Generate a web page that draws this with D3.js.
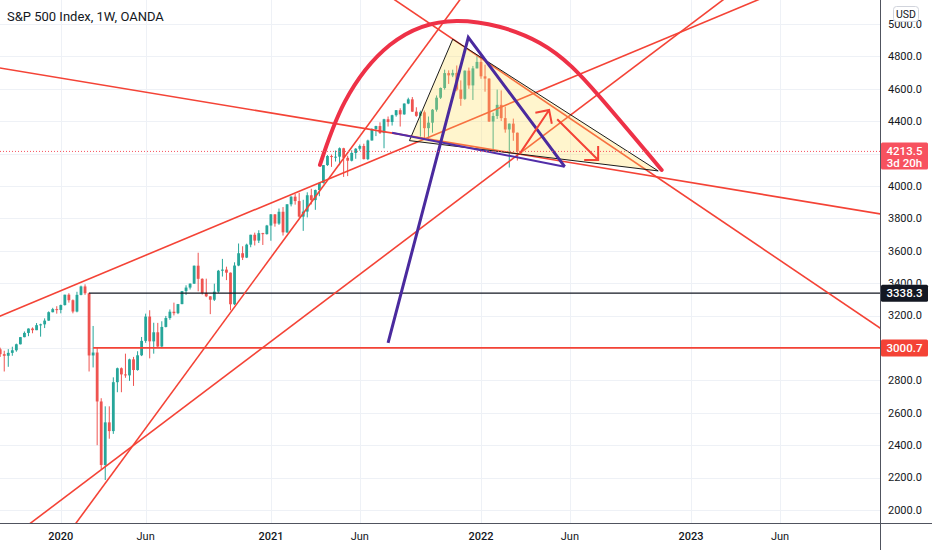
<!DOCTYPE html>
<meta charset="utf-8">
<style>

body {
  margin: 0;
  font-family: Roboto, "Open Sans", Arial, sans-serif;
  width: 932px;
  height: 550px;
  background: #fff;
  overflow: hidden;
}

svg {
  display: block;
}

.candle line {
  stroke-width: 1px;
}

.trend {
  fill: none;
  stroke: #f44336;
  stroke-width: 1.6px;
}

</style>
<body>

<script src="https://d3js.org/d3.v7.min.js"></script>
<script>

// weekly bars, OANDA SPX500USD, first bar is the week of 2019-09-16
let firstWeek = "2019-09-16";

let opens = [
  3007, 2992, 2962, 2952, 2970, 2986, 3023, 3067, 3093, 3120, 3110, 3141, 3146, 3169, 3221, 3240,
  3235, 3265, 3329, 3295, 3225, 3328, 3380, 3338, 2954, 2972, 2670, 2278, 2541, 2487, 2789, 2875,
  2837, 2831, 2930, 2864, 2955, 3044, 3194, 3041, 3097, 3009, 3130, 3185, 3224, 3215, 3271, 3351,
  3373, 3397, 3508, 3427, 3340, 3319, 3298, 3348, 3477, 3484, 3465, 3270, 3509, 3585, 3558, 3638,
  3699, 3663, 3709, 3703,
  3756, 3825, 3768, 3841, 3714, 3887, 3934, 3907, 3811, 3842, 3943, 3913, 3975, 4019, 4129, 4185,
  4180, 4181, 4233, 4174, 4156, 4204, 4230, 4247, 4166, 4281, 4352, 4370, 4327, 4412, 4395, 4437,
  4468, 4442, 4509, 4535, 4459, 4433, 4455, 4357, 4391, 4471, 4545, 4605, 4697, 4683, 4698, 4595,
  4538, 4712, 4621, 4726,
  4766, 4677, 4663, 4398, 4432, 4501, 4419, 4349, 4385, 4329
];

let highs = [
  3022, 3002, 2983, 2993, 3008, 3027, 3068, 3102, 3121, 3127, 3154, 3150, 3183, 3226, 3248, 3258,
  3268, 3329, 3338, 3300, 3347, 3385, 3393, 3342, 3136, 3000, 2690, 2640, 2640, 2819, 2879, 2880,
  2965, 2934, 2945, 2980, 3068, 3212, 3233, 3156, 3155, 3165, 3198, 3238, 3280, 3272, 3352, 3387,
  3399, 3509, 3588, 3430, 3428, 3320, 3397, 3482, 3550, 3502, 3466, 3529, 3645, 3628, 3644, 3699,
  3712, 3727, 3711, 3760,
  3827, 3826, 3861, 3870, 3888, 3937, 3951, 3958, 3915, 3961, 3983, 3978, 4021, 4129, 4191, 4194,
  4219, 4238, 4236, 4187, 4220, 4234, 4256, 4261, 4286, 4356, 4372, 4393, 4415, 4429, 4440, 4469,
  4480, 4510, 4545, 4549, 4486, 4465, 4466, 4429, 4475, 4559, 4608, 4718, 4714, 4718, 4744, 4652,
  4713, 4731, 4741, 4808,
  4818, 4749, 4665, 4453, 4595, 4590, 4490, 4386, 4416, 4330
];

let lows = [
  2985, 2945, 2855, 2884, 2952, 2977, 3022, 3066, 3073, 3091, 3110, 3070, 3123, 3168, 3220, 3212,
  3214, 3262, 3280, 3214, 3220, 3325, 3328, 2855, 2880, 2400, 2250, 2185, 2440, 2470, 2727, 2727,
  2816, 2797, 2766, 2860, 2950, 3032, 2936, 2965, 3004, 2999, 3127, 3174, 3201, 3209, 3270, 3327,
  3361, 3395, 3350, 3330, 3314, 3209, 3290, 3340, 3441, 3419, 3233, 3265, 3505, 3543, 3555, 3622,
  3633, 3648, 3636, 3700,
  3662, 3749, 3760, 3694, 3710, 3874, 3885, 3805, 3723, 3806, 3886, 3853, 3937, 4015, 4124, 4118,
  4151, 4128, 4056, 4061, 4152, 4168, 4218, 4164, 4160, 4280, 4308, 4321, 4233, 4367, 4373, 4428,
  4367, 4440, 4505, 4457, 4427, 4305, 4288, 4278, 4329, 4459, 4537, 4595, 4630, 4672, 4585, 4495,
  4532, 4600, 4531, 4726,
  4662, 4582, 4395, 4222, 4414, 4401, 4329, 4114, 4279, 4157
];

let closes = [
  2992, 2962, 2952, 2970, 2986, 3023, 3067, 3093, 3120, 3110, 3141, 3146, 3169, 3221, 3240, 3235,
  3265, 3329, 3295, 3225, 3328, 3380, 3338, 2954, 2972, 2670, 2278, 2541, 2487, 2789, 2875, 2837,
  2831, 2930, 2864, 2955, 3044, 3194, 3041, 3097, 3009, 3130, 3185, 3224, 3215, 3271, 3351, 3373,
  3397, 3508, 3427, 3340, 3319, 3298, 3348, 3477, 3484, 3465, 3270, 3509, 3585, 3558, 3638, 3699,
  3663, 3709, 3703, 3756,
  3825, 3768, 3841, 3714, 3887, 3934, 3907, 3811, 3842, 3943, 3913, 3975, 4019, 4129, 4185, 4180,
  4181, 4233, 4174, 4156, 4204, 4230, 4247, 4166, 4281, 4352, 4370, 4327, 4412, 4395, 4437, 4468,
  4442, 4509, 4535, 4459, 4433, 4455, 4357, 4391, 4471, 4545, 4605, 4697, 4683, 4698, 4595, 4538,
  4712, 4621, 4726, 4766,
  4677, 4663, 4398, 4432, 4501, 4419, 4349, 4385, 4329, 4213.5
];

let lastPrice = 4213.5;
let countdown = "3d 20h";

let priceTicks = d3.range(2000, 5001, 200);
let timeTickDates = ["2020-01-06", "2020-06-01", "2021-01-04", "2021-06-07",
                     "2022-01-03", "2022-06-06", "2023-01-02", "2023-06-05"];
let timeTickLabels = ["2020", "Jun", "2021", "Jun", "2022", "Jun", "2023", "Jun"];

// drawings, anchors as [date, price]
// extended trend lines
let trendLines = [
  [["2020-01-06", 4666], ["2022-01-03", 4236]],
  [["2020-01-06", 2060], ["2022-01-03", 4020]],
  [["2020-03-23", 2165], ["2021-01-04", 3559]],
  [["2020-01-06", 3354], ["2022-01-03", 4436]],
  [["2022-01-03", 4789], ["2023-01-02", 3912]]
];

// horizontal rays
let levelStarts = ["2020-02-24", "2020-03-02"];
let levelPrices = [3338.3, 3000.7];

let triangle = [["2021-11-15", 4906], ["2021-09-01", 4280], ["2022-11-06", 4093]];

let arcPoints = [
  ["2021-03-30", 4130], ["2021-05-12", 4519], ["2021-07-29", 4870], ["2021-11-22", 5019],
  ["2022-04-15", 4883], ["2022-07-28", 4549], ["2022-11-12", 4099]
];

let purpleV = [["2021-07-26", 3031], ["2021-12-12", 4918], ["2022-05-28", 4119]];
let purpleBase = [["2021-08-02", 4329], ["2022-05-28", 4119]];

let arrows = [
  [["2022-03-11", 4198], ["2022-05-01", 4469]],
  [["2022-05-15", 4412], ["2022-07-25", 4160]]
];


let width = 932,
    height = 550,
    plotW = 880,
    plotH = 523;

let parseDate = d3.utcParse("%Y-%m-%d");

let x = d3.scaleUtc()
  .domain([parseDate("2020-01-06"), parseDate("2022-01-03")])
  .range([60.8, 481]);

let y = d3.scaleLinear()
  .domain([2000, 5000])
  .range([510, 24]);

let pt = function(d) { return [x(parseDate(d[0])), y(d[1])]; };

let start = parseDate(firstWeek);
let bars = closes.map(function(c, i) {
  return { date: d3.utcMonday.offset(start, i), o: opens[i], h: highs[i], l: lows[i], c: c };
});

let svg = d3.select("body")
  .append("svg")
  .attr("width", width)
  .attr("height", height);

let defs = svg.append("defs");
defs.append("clipPath")
  .attr("id", "plot")
  .append("rect")
  .attr("width", plotW)
  .attr("height", plotH);

/* ------- GRID -------*/
let grid = svg.append("g").attr("class", "grid");

grid.selectAll("line.h")
  .data(priceTicks)
  .enter().append("line")
  .attr("class", "h")
  .attr("x1", 0).attr("x2", plotW)
  .attr("y1", function(d) { return Math.round(y(d)) + 0.5; })
  .attr("y2", function(d) { return Math.round(y(d)) + 0.5; })
  .attr("stroke", "#eef1f6");

grid.selectAll("line.v")
  .data(timeTickDates)
  .enter().append("line")
  .attr("class", "v")
  .attr("y1", 0).attr("y2", plotH)
  .attr("x1", function(d) { return Math.round(x(parseDate(d))) + 0.5; })
  .attr("x2", function(d) { return Math.round(x(parseDate(d))) + 0.5; })
  .attr("stroke", "#eef1f6");

let plot = svg.append("g").attr("clip-path", "url(#plot)");

/* ------- CANDLES -------*/
let candle = plot.append("g").selectAll("g.candle")
  .data(bars)
  .enter().append("g")
  .attr("class", "candle")
  .attr("fill", function(d) { return d.c >= d.o ? "#26a69a" : "#ef5350"; })
  .attr("stroke", function(d) { return d.c >= d.o ? "#26a69a" : "#ef5350"; });

candle.append("line")
  .attr("x1", function(d) { return x(d.date); })
  .attr("x2", function(d) { return x(d.date); })
  .attr("y1", function(d) { return y(d.h); })
  .attr("y2", function(d) { return y(d.l); });

candle.append("rect")
  .attr("stroke", "none")
  .attr("x", function(d) { return x(d.date) - 1.4; })
  .attr("width", 2.8)
  .attr("y", function(d) { return y(Math.max(d.o, d.c)); })
  .attr("height", function(d) { return Math.max(1, Math.abs(y(d.o) - y(d.c))); });

/* ------- HORIZONTAL RAYS -------*/
let levelColors = ["#131722", "#f44336"];
let levelWidths = [1.3, 1.8];

plot.selectAll("line.level")
  .data(levelPrices)
  .enter().append("line")
  .attr("class", "level")
  .attr("x1", function(d, i) { return x(parseDate(levelStarts[i])); })
  .attr("x2", plotW)
  .attr("y1", function(d) { return y(d); })
  .attr("y2", function(d) { return y(d); })
  .attr("stroke", function(d, i) { return levelColors[i]; })
  .attr("stroke-width", function(d, i) { return levelWidths[i]; });

/* ------- TREND LINES (extended) -------*/
function extend(seg) {
  let a = pt(seg[0]), b = pt(seg[1]);
  let dx = b[0] - a[0], dy = b[1] - a[1];
  return [[a[0] - dx * 20, a[1] - dy * 20], [b[0] + dx * 20, b[1] + dy * 20]];
}

plot.selectAll("path.trend")
  .data(trendLines)
  .enter().append("path")
  .attr("class", "trend")
  .attr("d", function(d) { return d3.line()(extend(d)); });

/* ------- TRIANGLE -------*/
plot.append("path")
  .attr("d", d3.line()(triangle.map(pt)) + "Z")
  .attr("fill", "rgba(255, 222, 89, 0.3)")
  .attr("stroke", "#1b1b1b")
  .attr("stroke-width", 1);

/* ------- PURPLE -------*/
plot.append("path")
  .attr("d", d3.line()(purpleBase.map(pt)))
  .attr("fill", "none")
  .attr("stroke", "#512da8")
  .attr("stroke-width", 2);

plot.append("path")
  .attr("d", d3.line()(purpleV.map(pt)))
  .attr("fill", "none")
  .attr("stroke", "#4a2a9e")
  .attr("stroke-width", 3)
  .attr("stroke-linejoin", "miter");

/* ------- ARC -------*/
plot.append("path")
  .attr("d", d3.line().curve(d3.curveNatural)(arcPoints.map(pt)))
  .attr("fill", "none")
  .attr("stroke", "#ee3147")
  .attr("stroke-width", 4)
  .attr("stroke-linecap", "round");

/* ------- ARROWS -------*/
function arrowPath(seg) {
  let a = pt(seg[0]), b = pt(seg[1]);
  let ang = Math.atan2(a[1] - b[1], a[0] - b[0]);
  let len = 14, spread = Math.PI / 4;
  let w1 = [b[0] + len * Math.cos(ang + spread), b[1] + len * Math.sin(ang + spread)];
  let w2 = [b[0] + len * Math.cos(ang - spread), b[1] + len * Math.sin(ang - spread)];
  return "M" + a + "L" + b + "M" + w1 + "L" + b + "L" + w2;
}

plot.selectAll("path.arrow")
  .data(arrows)
  .enter().append("path")
  .attr("class", "arrow")
  .attr("d", arrowPath)
  .attr("fill", "none")
  .attr("stroke", "#f44336")
  .attr("stroke-width", 2);

/* ------- LAST PRICE LINE -------*/
plot.append("line")
  .attr("x1", 0).attr("x2", plotW)
  .attr("y1", y(lastPrice)).attr("y2", y(lastPrice))
  .attr("stroke", "#f7525f")
  .attr("stroke-width", 1)
  .attr("stroke-dasharray", "1,2");

/* ------- AXES -------*/
svg.append("line")
  .attr("x1", 0).attr("x2", width)
  .attr("y1", plotH + 0.5).attr("y2", plotH + 0.5)
  .attr("stroke", "#50535e");

svg.append("line")
  .attr("x1", plotW + 0.5).attr("x2", plotW + 0.5)
  .attr("y1", 0).attr("y2", height)
  .attr("stroke", "#50535e");

// labels that sit fully under a price tag are not drawn
let hidden = [4200, 3000];

// 3400.0 is cut by the 3338.3 tag, as on the chart
defs.append("clipPath")
  .attr("id", "axisLabels")
  .append("rect")
  .attr("x", plotW + 1).attr("y", 0)
  .attr("width", width - plotW)
  .attr("height", y(levelPrices[0]) - 8.5);

svg.append("g").selectAll("text")
  .data(priceTicks.filter(function(d) { return hidden.indexOf(d) < 0; }))
  .enter().append("text")
  .attr("x", 888)
  .attr("y", function(d) { return y(d); })
  .attr("dy", "0.35em")
  .attr("font-size", 11)
  .attr("fill", "#131722")
  .attr("clip-path", function(d) { return d === 3400 ? "url(#axisLabels)" : null; })
  .text(d3.format(".1f"));

svg.append("g").selectAll("text")
  .data(timeTickDates)
  .enter().append("text")
  .attr("x", function(d) { return x(parseDate(d)); })
  .attr("y", 540)
  .attr("text-anchor", "middle")
  .attr("font-size", 11)
  .attr("font-weight", function(d, i) { return timeTickLabels[i] === "Jun" ? 400 : 500; })
  .attr("fill", "#131722")
  .text(function(d, i) { return timeTickLabels[i]; });

/* ------- PRICE TAGS -------*/
function tag(price, lines, color) {
  let h = lines.length > 1 ? 27 : 17;
  let top = y(price) - (lines.length > 1 ? 9 : 8.5);
  let g = svg.append("g");
  g.append("rect")
    .attr("x", plotW + 1).attr("y", top)
    .attr("width", 47).attr("height", h)
    .attr("rx", 1.5)
    .attr("fill", color);
  g.selectAll("text")
    .data(lines)
    .enter().append("text")
    .attr("x", plotW + 24.5)
    .attr("y", function(d, i) { return top + 12.5 + i * 12.5; })
    .attr("text-anchor", "middle")
    .attr("font-size", 11.5)
    .attr("font-weight", 500)
    .attr("fill", "#fff")
    .text(function(d) { return d; });
}

tag(lastPrice, [d3.format(".1f")(lastPrice), countdown], "#f7525f");
tag(levelPrices[0], [d3.format(".1f")(levelPrices[0])], "#131722");
tag(levelPrices[1], [d3.format(".1f")(levelPrices[1])], "#f44336");

/* ------- USD BADGE + TITLE -------*/
svg.append("rect")
  .attr("x", 893.5).attr("y", 6.5)
  .attr("width", 25).attr("height", 15)
  .attr("rx", 3)
  .attr("fill", "#fff")
  .attr("stroke", "#d1d4dc");

svg.append("text")
  .attr("x", 906).attr("y", 17.5)
  .attr("text-anchor", "middle")
  .attr("font-size", 10.5)
  .attr("fill", "#131722")
  .text("USD");

svg.append("text")
  .attr("x", 7).attr("y", 20.5)
  .attr("font-size", 13)
  .attr("fill", "#131722")
  .text("S&P 500 Index, 1W, OANDA");

</script>
</body>
